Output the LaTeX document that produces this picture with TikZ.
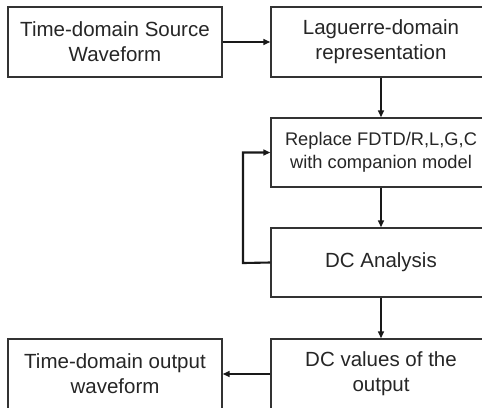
\documentclass[tikz,border=0pt]{standalone}
\usepackage{fontspec}
\setmainfont{Liberation Sans}
\usetikzlibrary{arrows.meta}

\begin{document}
\begin{tikzpicture}[
    x=0.03cm, y=-0.03cm,
    block/.style={rectangle, draw=black!80, line width=1.1pt, fill=white,
                  minimum width=6.42cm, minimum height=2.1cm, align=center,
                  text=black!85, font=\fontsize{17.5}{21.3}\selectfont},
    wideblock/.style={block, minimum width=6.6cm},
    smallblock/.style={wideblock, minimum height=2.07cm,
                       font=\fontsize{15.6}{20}\selectfont},
    flow/.style={-{Triangle[length=6pt, width=5pt]}, line width=1.8pt, black!90}
]
    \useasboundingbox (0,0) rectangle (482,407);
    \clip (0,0) rectangle (482,407);

    \node[block] (src) at (115,42) {Time-domain Source\\Waveform};
    \node[wideblock] (lag) at (381,42) {Laguerre-domain\\representation};
    \node[smallblock] (comp) at (381,152.5) {Replace FDTD/R,L,G,C\\with companion model};
    \node[wideblock, minimum height=2.07cm] (dc) at (381,262.5) {DC Analysis};
    \node[wideblock] (dcval) at (381,374) {DC values of the\\output};
    \node[block] (out) at (115,374) {Time-domain output\\waveform};

    \coordinate (back) at (243,263);

    \draw[flow] (src) -- (lag);
    \draw[flow] (lag) -- (comp);
    \draw[flow] (comp) -- (dc);
    \draw[flow] (dc.west) -- (back) |- (comp.west);
    \draw[flow] (dc) -- (dcval);
    \draw[flow] (dcval) -- (out);
\end{tikzpicture}
\end{document}
